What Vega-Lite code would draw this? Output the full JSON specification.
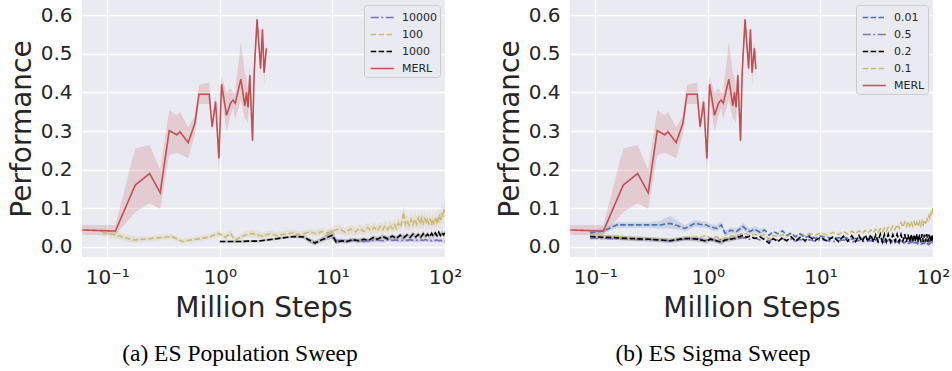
{
"$schema": "https://vega.github.io/schema/vega-lite/v6.json",
"padding": {"left": 8, "top": 0, "right": 0, "bottom": 0},
"background": "white",
"data": {"values": [
{"panel":"a","series":"10000","x":10,"y":0.025,"lo":0.018,"hi":0.032},
{"panel":"a","series":"10000","x":11,"y":0.016,"lo":0.011,"hi":0.021},
{"panel":"a","series":"10000","x":13,"y":0.015,"lo":0.01,"hi":0.02},
{"panel":"a","series":"10000","x":16,"y":0.017,"lo":0.012,"hi":0.022},
{"panel":"a","series":"10000","x":19,"y":0.014,"lo":0.009,"hi":0.019},
{"panel":"a","series":"10000","x":22,"y":0.016,"lo":0.011,"hi":0.021},
{"panel":"a","series":"10000","x":25,"y":0.018,"lo":0.013,"hi":0.023},
{"panel":"a","series":"10000","x":28,"y":0.016,"lo":0.011,"hi":0.021},
{"panel":"a","series":"10000","x":31,"y":0.019,"lo":0.014,"hi":0.024},
{"panel":"a","series":"10000","x":34,"y":0.017,"lo":0.012,"hi":0.022},
{"panel":"a","series":"10000","x":37,"y":0.018,"lo":0.013,"hi":0.023},
{"panel":"a","series":"10000","x":40,"y":0.016,"lo":0.011,"hi":0.021},
{"panel":"a","series":"10000","x":43,"y":0.018,"lo":0.013,"hi":0.023},
{"panel":"a","series":"10000","x":46,"y":0.017,"lo":0.012,"hi":0.022},
{"panel":"a","series":"10000","x":49,"y":0.019,"lo":0.014,"hi":0.024},
{"panel":"a","series":"10000","x":52,"y":0.017,"lo":0.012,"hi":0.022},
{"panel":"a","series":"10000","x":55,"y":0.018,"lo":0.013,"hi":0.023},
{"panel":"a","series":"10000","x":58,"y":0.016,"lo":0.011,"hi":0.021},
{"panel":"a","series":"10000","x":61,"y":0.018,"lo":0.013,"hi":0.023},
{"panel":"a","series":"10000","x":64,"y":0.017,"lo":0.012,"hi":0.022},
{"panel":"a","series":"10000","x":67,"y":0.019,"lo":0.014,"hi":0.024},
{"panel":"a","series":"10000","x":70,"y":0.017,"lo":0.012,"hi":0.022},
{"panel":"a","series":"10000","x":73,"y":0.018,"lo":0.013,"hi":0.023},
{"panel":"a","series":"10000","x":76,"y":0.016,"lo":0.011,"hi":0.021},
{"panel":"a","series":"10000","x":79,"y":0.018,"lo":0.013,"hi":0.023},
{"panel":"a","series":"10000","x":82,"y":0.017,"lo":0.012,"hi":0.022},
{"panel":"a","series":"10000","x":85,"y":0.018,"lo":0.013,"hi":0.023},
{"panel":"a","series":"10000","x":88,"y":0.016,"lo":0.011,"hi":0.021},
{"panel":"a","series":"10000","x":91,"y":0.017,"lo":0.012,"hi":0.022},
{"panel":"a","series":"10000","x":94,"y":0.016,"lo":0.011,"hi":0.021},
{"panel":"a","series":"10000","x":97,"y":0.017,"lo":0.012,"hi":0.022},
{"panel":"a","series":"10000","x":100,"y":0.016,"lo":0.011,"hi":0.021},
{"panel":"a","series":"100","x":0.0898,"y":0.038,"lo":0.028,"hi":0.05},
{"panel":"a","series":"100","x":0.118,"y":0.031,"lo":0.022,"hi":0.042},
{"panel":"a","series":"100","x":0.171,"y":0.018,"lo":0.011,"hi":0.027},
{"panel":"a","series":"100","x":0.233,"y":0.021,"lo":0.014,"hi":0.028},
{"panel":"a","series":"100","x":0.375,"y":0.027,"lo":0.02,"hi":0.034},
{"panel":"a","series":"100","x":0.46,"y":0.014,"lo":0.008,"hi":0.021},
{"panel":"a","series":"100","x":0.647,"y":0.021,"lo":0.014,"hi":0.028},
{"panel":"a","series":"100","x":0.79,"y":0.025,"lo":0.018,"hi":0.032},
{"panel":"a","series":"100","x":0.973,"y":0.035,"lo":0.027,"hi":0.044},
{"panel":"a","series":"100","x":1.115,"y":0.025,"lo":0.017,"hi":0.033},
{"panel":"a","series":"100","x":1.235,"y":0.035,"lo":0.027,"hi":0.044},
{"panel":"a","series":"100","x":1.37,"y":0.018,"lo":0.011,"hi":0.026},
{"panel":"a","series":"100","x":1.68,"y":0.031,"lo":0.023,"hi":0.04},
{"panel":"a","series":"100","x":1.92,"y":0.035,"lo":0.026,"hi":0.045},
{"panel":"a","series":"100","x":2.36,"y":0.028,"lo":0.02,"hi":0.037},
{"panel":"a","series":"100","x":2.8,"y":0.034,"lo":0.025,"hi":0.043},
{"panel":"a","series":"100","x":3.2,"y":0.029,"lo":0.021,"hi":0.038},
{"panel":"a","series":"100","x":3.7,"y":0.033,"lo":0.024,"hi":0.042},
{"panel":"a","series":"100","x":4.5,"y":0.036,"lo":0.028,"hi":0.045},
{"panel":"a","series":"100","x":5.2,"y":0.031,"lo":0.022,"hi":0.04},
{"panel":"a","series":"100","x":6.3,"y":0.039,"lo":0.03,"hi":0.048},
{"panel":"a","series":"100","x":7.2,"y":0.034,"lo":0.026,"hi":0.043},
{"panel":"a","series":"100","x":8.0,"y":0.040,"lo":0.031,"hi":0.05},
{"panel":"a","series":"100","x":8.9,"y":0.036,"lo":0.027,"hi":0.046},
{"panel":"a","series":"100","x":10,"y":0.041,"lo":0.031,"hi":0.052},
{"panel":"a","series":"100","x":11.5,"y":0.047,"lo":0.034,"hi":0.06},
{"panel":"a","series":"100","x":13,"y":0.038,"lo":0.028,"hi":0.05},
{"panel":"a","series":"100","x":14.5,"y":0.046,"lo":0.033,"hi":0.058},
{"panel":"a","series":"100","x":16,"y":0.039,"lo":0.028,"hi":0.052},
{"panel":"a","series":"100","x":17.5,"y":0.048,"lo":0.035,"hi":0.06},
{"panel":"a","series":"100","x":19,"y":0.040,"lo":0.029,"hi":0.052},
{"panel":"a","series":"100","x":20.5,"y":0.050,"lo":0.037,"hi":0.063},
{"panel":"a","series":"100","x":22,"y":0.042,"lo":0.03,"hi":0.055},
{"panel":"a","series":"100","x":23.5,"y":0.051,"lo":0.037,"hi":0.064},
{"panel":"a","series":"100","x":25,"y":0.042,"lo":0.03,"hi":0.055},
{"panel":"a","series":"100","x":26.5,"y":0.053,"lo":0.039,"hi":0.067},
{"panel":"a","series":"100","x":28,"y":0.045,"lo":0.032,"hi":0.058},
{"panel":"a","series":"100","x":29.5,"y":0.055,"lo":0.04,"hi":0.07},
{"panel":"a","series":"100","x":31,"y":0.045,"lo":0.032,"hi":0.058},
{"panel":"a","series":"100","x":32.5,"y":0.057,"lo":0.041,"hi":0.072},
{"panel":"a","series":"100","x":34,"y":0.047,"lo":0.034,"hi":0.062},
{"panel":"a","series":"100","x":35.5,"y":0.058,"lo":0.042,"hi":0.074},
{"panel":"a","series":"100","x":37,"y":0.048,"lo":0.034,"hi":0.062},
{"panel":"a","series":"100","x":38.5,"y":0.062,"lo":0.045,"hi":0.079},
{"panel":"a","series":"100","x":40,"y":0.052,"lo":0.038,"hi":0.068},
{"panel":"a","series":"100","x":41.5,"y":0.066,"lo":0.048,"hi":0.084},
{"panel":"a","series":"100","x":43,"y":0.090,"lo":0.06,"hi":0.11},
{"panel":"a","series":"100","x":44.5,"y":0.058,"lo":0.042,"hi":0.075},
{"panel":"a","series":"100","x":46,"y":0.068,"lo":0.049,"hi":0.087},
{"panel":"a","series":"100","x":48,"y":0.056,"lo":0.04,"hi":0.072},
{"panel":"a","series":"100","x":50,"y":0.071,"lo":0.051,"hi":0.09},
{"panel":"a","series":"100","x":52,"y":0.058,"lo":0.042,"hi":0.075},
{"panel":"a","series":"100","x":54,"y":0.072,"lo":0.052,"hi":0.092},
{"panel":"a","series":"100","x":56,"y":0.059,"lo":0.043,"hi":0.077},
{"panel":"a","series":"100","x":58,"y":0.074,"lo":0.053,"hi":0.095},
{"panel":"a","series":"100","x":60,"y":0.060,"lo":0.043,"hi":0.078},
{"panel":"a","series":"100","x":62,"y":0.075,"lo":0.054,"hi":0.096},
{"panel":"a","series":"100","x":64,"y":0.061,"lo":0.044,"hi":0.08},
{"panel":"a","series":"100","x":66,"y":0.076,"lo":0.055,"hi":0.097},
{"panel":"a","series":"100","x":68,"y":0.060,"lo":0.043,"hi":0.079},
{"panel":"a","series":"100","x":70,"y":0.074,"lo":0.053,"hi":0.095},
{"panel":"a","series":"100","x":72,"y":0.058,"lo":0.042,"hi":0.076},
{"panel":"a","series":"100","x":74,"y":0.073,"lo":0.052,"hi":0.094},
{"panel":"a","series":"100","x":76,"y":0.057,"lo":0.041,"hi":0.074},
{"panel":"a","series":"100","x":78,"y":0.072,"lo":0.052,"hi":0.093},
{"panel":"a","series":"100","x":80,"y":0.058,"lo":0.042,"hi":0.076},
{"panel":"a","series":"100","x":82,"y":0.074,"lo":0.053,"hi":0.095},
{"panel":"a","series":"100","x":84,"y":0.060,"lo":0.043,"hi":0.079},
{"panel":"a","series":"100","x":86,"y":0.078,"lo":0.056,"hi":0.1},
{"panel":"a","series":"100","x":88,"y":0.064,"lo":0.046,"hi":0.084},
{"panel":"a","series":"100","x":90,"y":0.084,"lo":0.06,"hi":0.108},
{"panel":"a","series":"100","x":92,"y":0.070,"lo":0.05,"hi":0.092},
{"panel":"a","series":"100","x":94,"y":0.088,"lo":0.063,"hi":0.113},
{"panel":"a","series":"100","x":96,"y":0.078,"lo":0.056,"hi":0.1},
{"panel":"a","series":"100","x":98,"y":0.096,"lo":0.07,"hi":0.122},
{"panel":"a","series":"100","x":100,"y":0.104,"lo":0.078,"hi":0.13},
{"panel":"a","series":"1000","x":1.0,"y":0.014,"lo":0.011,"hi":0.017},
{"panel":"a","series":"1000","x":1.2,"y":0.014,"lo":0.011,"hi":0.017},
{"panel":"a","series":"1000","x":1.5,"y":0.014,"lo":0.011,"hi":0.017},
{"panel":"a","series":"1000","x":1.8,"y":0.015,"lo":0.012,"hi":0.018},
{"panel":"a","series":"1000","x":2.2,"y":0.015,"lo":0.012,"hi":0.018},
{"panel":"a","series":"1000","x":2.6,"y":0.018,"lo":0.015,"hi":0.021},
{"panel":"a","series":"1000","x":3.0,"y":0.020,"lo":0.017,"hi":0.023},
{"panel":"a","series":"1000","x":3.5,"y":0.023,"lo":0.02,"hi":0.026},
{"panel":"a","series":"1000","x":4.0,"y":0.025,"lo":0.022,"hi":0.028},
{"panel":"a","series":"1000","x":4.6,"y":0.027,"lo":0.024,"hi":0.03},
{"panel":"a","series":"1000","x":5.5,"y":0.026,"lo":0.022,"hi":0.03},
{"panel":"a","series":"1000","x":6.2,"y":0.018,"lo":0.01,"hi":0.024},
{"panel":"a","series":"1000","x":7.0,"y":0.010,"lo":0.004,"hi":0.017},
{"panel":"a","series":"1000","x":7.8,"y":0.017,"lo":0.011,"hi":0.023},
{"panel":"a","series":"1000","x":8.6,"y":0.022,"lo":0.016,"hi":0.03},
{"panel":"a","series":"1000","x":9.5,"y":0.028,"lo":0.02,"hi":0.04},
{"panel":"a","series":"1000","x":10,"y":0.030,"lo":0.02,"hi":0.046},
{"panel":"a","series":"1000","x":10.8,"y":0.012,"lo":0.007,"hi":0.02},
{"panel":"a","series":"1000","x":12,"y":0.016,"lo":0.011,"hi":0.021},
{"panel":"a","series":"1000","x":13.5,"y":0.014,"lo":0.009,"hi":0.019},
{"panel":"a","series":"1000","x":15,"y":0.019,"lo":0.014,"hi":0.024},
{"panel":"a","series":"1000","x":17,"y":0.016,"lo":0.011,"hi":0.021},
{"panel":"a","series":"1000","x":19,"y":0.020,"lo":0.015,"hi":0.025},
{"panel":"a","series":"1000","x":21,"y":0.017,"lo":0.012,"hi":0.022},
{"panel":"a","series":"1000","x":23,"y":0.024,"lo":0.018,"hi":0.03},
{"panel":"a","series":"1000","x":25,"y":0.020,"lo":0.015,"hi":0.026},
{"panel":"a","series":"1000","x":28,"y":0.027,"lo":0.021,"hi":0.033},
{"panel":"a","series":"1000","x":31,"y":0.021,"lo":0.015,"hi":0.027},
{"panel":"a","series":"1000","x":34,"y":0.028,"lo":0.022,"hi":0.034},
{"panel":"a","series":"1000","x":37,"y":0.022,"lo":0.016,"hi":0.028},
{"panel":"a","series":"1000","x":40,"y":0.030,"lo":0.024,"hi":0.036},
{"panel":"a","series":"1000","x":43,"y":0.024,"lo":0.018,"hi":0.03},
{"panel":"a","series":"1000","x":46,"y":0.031,"lo":0.025,"hi":0.037},
{"panel":"a","series":"1000","x":49,"y":0.025,"lo":0.019,"hi":0.031},
{"panel":"a","series":"1000","x":52,"y":0.033,"lo":0.026,"hi":0.04},
{"panel":"a","series":"1000","x":55,"y":0.026,"lo":0.02,"hi":0.032},
{"panel":"a","series":"1000","x":58,"y":0.032,"lo":0.026,"hi":0.038},
{"panel":"a","series":"1000","x":61,"y":0.025,"lo":0.019,"hi":0.031},
{"panel":"a","series":"1000","x":64,"y":0.034,"lo":0.027,"hi":0.041},
{"panel":"a","series":"1000","x":67,"y":0.027,"lo":0.021,"hi":0.033},
{"panel":"a","series":"1000","x":70,"y":0.033,"lo":0.027,"hi":0.039},
{"panel":"a","series":"1000","x":73,"y":0.026,"lo":0.02,"hi":0.032},
{"panel":"a","series":"1000","x":76,"y":0.035,"lo":0.028,"hi":0.042},
{"panel":"a","series":"1000","x":79,"y":0.028,"lo":0.022,"hi":0.034},
{"panel":"a","series":"1000","x":82,"y":0.036,"lo":0.029,"hi":0.043},
{"panel":"a","series":"1000","x":85,"y":0.029,"lo":0.023,"hi":0.035},
{"panel":"a","series":"1000","x":88,"y":0.038,"lo":0.03,"hi":0.046},
{"panel":"a","series":"1000","x":91,"y":0.030,"lo":0.024,"hi":0.036},
{"panel":"a","series":"1000","x":94,"y":0.037,"lo":0.03,"hi":0.044},
{"panel":"a","series":"1000","x":97,"y":0.031,"lo":0.025,"hi":0.037},
{"panel":"a","series":"1000","x":100,"y":0.036,"lo":0.029,"hi":0.043},
{"panel":"b","series":"0.1","x":0.0898,"y":0.035},
{"panel":"b","series":"0.1","x":0.118,"y":0.030},
{"panel":"b","series":"0.1","x":0.155,"y":0.028},
{"panel":"b","series":"0.1","x":0.2,"y":0.025},
{"panel":"b","series":"0.1","x":0.25,"y":0.023},
{"panel":"b","series":"0.1","x":0.3,"y":0.022},
{"panel":"b","series":"0.1","x":0.375,"y":0.021},
{"panel":"b","series":"0.1","x":0.46,"y":0.018},
{"panel":"b","series":"0.1","x":0.54,"y":0.021},
{"panel":"b","series":"0.1","x":0.625,"y":0.024},
{"panel":"b","series":"0.1","x":0.767,"y":0.025},
{"panel":"b","series":"0.1","x":0.87,"y":0.026},
{"panel":"b","series":"0.1","x":0.973,"y":0.030},
{"panel":"b","series":"0.1","x":1.05,"y":0.022},
{"panel":"b","series":"0.1","x":1.19,"y":0.026},
{"panel":"b","series":"0.1","x":1.32,"y":0.020},
{"panel":"b","series":"0.1","x":1.42,"y":0.024},
{"panel":"b","series":"0.1","x":1.6,"y":0.028},
{"panel":"b","series":"0.1","x":1.8,"y":0.030},
{"panel":"b","series":"0.1","x":2.06,"y":0.036},
{"panel":"b","series":"0.1","x":2.36,"y":0.030},
{"panel":"b","series":"0.1","x":2.6,"y":0.033},
{"panel":"b","series":"0.1","x":2.9,"y":0.028},
{"panel":"b","series":"0.1","x":3.2,"y":0.031},
{"panel":"b","series":"0.1","x":3.5,"y":0.020},
{"panel":"b","series":"0.1","x":3.8,"y":0.030},
{"panel":"b","series":"0.1","x":4.2,"y":0.026},
{"panel":"b","series":"0.1","x":4.6,"y":0.032},
{"panel":"b","series":"0.1","x":5.0,"y":0.027},
{"panel":"b","series":"0.1","x":5.5,"y":0.034},
{"panel":"b","series":"0.1","x":6.0,"y":0.028},
{"panel":"b","series":"0.1","x":6.6,"y":0.034},
{"panel":"b","series":"0.1","x":7.3,"y":0.029},
{"panel":"b","series":"0.1","x":8.0,"y":0.035},
{"panel":"b","series":"0.1","x":9.0,"y":0.030},
{"panel":"b","series":"0.1","x":10,"y":0.036},
{"panel":"b","series":"0.1","x":11.5,"y":0.031},
{"panel":"b","series":"0.1","x":13,"y":0.038},
{"panel":"b","series":"0.1","x":14.5,"y":0.032},
{"panel":"b","series":"0.1","x":16,"y":0.040},
{"panel":"b","series":"0.1","x":17.5,"y":0.033},
{"panel":"b","series":"0.1","x":19,"y":0.041},
{"panel":"b","series":"0.1","x":20.5,"y":0.034},
{"panel":"b","series":"0.1","x":22,"y":0.042},
{"panel":"b","series":"0.1","x":23.5,"y":0.035},
{"panel":"b","series":"0.1","x":25,"y":0.043},
{"panel":"b","series":"0.1","x":26.5,"y":0.036},
{"panel":"b","series":"0.1","x":28,"y":0.044},
{"panel":"b","series":"0.1","x":29.5,"y":0.037},
{"panel":"b","series":"0.1","x":31,"y":0.046},
{"panel":"b","series":"0.1","x":32.5,"y":0.038},
{"panel":"b","series":"0.1","x":34,"y":0.047},
{"panel":"b","series":"0.1","x":35.5,"y":0.039},
{"panel":"b","series":"0.1","x":37,"y":0.049},
{"panel":"b","series":"0.1","x":38.5,"y":0.041},
{"panel":"b","series":"0.1","x":40,"y":0.051},
{"panel":"b","series":"0.1","x":42,"y":0.043},
{"panel":"b","series":"0.1","x":44,"y":0.054},
{"panel":"b","series":"0.1","x":46,"y":0.045},
{"panel":"b","series":"0.1","x":48,"y":0.058},
{"panel":"b","series":"0.1","x":50,"y":0.048},
{"panel":"b","series":"0.1","x":52,"y":0.063},
{"panel":"b","series":"0.1","x":54,"y":0.051},
{"panel":"b","series":"0.1","x":56,"y":0.064},
{"panel":"b","series":"0.1","x":58,"y":0.053},
{"panel":"b","series":"0.1","x":60,"y":0.066},
{"panel":"b","series":"0.1","x":62,"y":0.054},
{"panel":"b","series":"0.1","x":64,"y":0.066},
{"panel":"b","series":"0.1","x":66,"y":0.054},
{"panel":"b","series":"0.1","x":68,"y":0.065},
{"panel":"b","series":"0.1","x":70,"y":0.053},
{"panel":"b","series":"0.1","x":72,"y":0.064},
{"panel":"b","series":"0.1","x":74,"y":0.053},
{"panel":"b","series":"0.1","x":76,"y":0.065},
{"panel":"b","series":"0.1","x":78,"y":0.055},
{"panel":"b","series":"0.1","x":80,"y":0.067},
{"panel":"b","series":"0.1","x":82,"y":0.057},
{"panel":"b","series":"0.1","x":84,"y":0.070},
{"panel":"b","series":"0.1","x":86,"y":0.060},
{"panel":"b","series":"0.1","x":88,"y":0.075},
{"panel":"b","series":"0.1","x":90,"y":0.066},
{"panel":"b","series":"0.1","x":92,"y":0.080},
{"panel":"b","series":"0.1","x":94,"y":0.072},
{"panel":"b","series":"0.1","x":96,"y":0.088},
{"panel":"b","series":"0.1","x":98,"y":0.082},
{"panel":"b","series":"0.1","x":100,"y":0.104},
{"panel":"b","series":"0.01","x":0.0898,"y":0.037,"lo":0.03,"hi":0.045},
{"panel":"b","series":"0.01","x":0.118,"y":0.041,"lo":0.034,"hi":0.048},
{"panel":"b","series":"0.01","x":0.155,"y":0.057,"lo":0.05,"hi":0.064},
{"panel":"b","series":"0.01","x":0.2,"y":0.057,"lo":0.05,"hi":0.064},
{"panel":"b","series":"0.01","x":0.25,"y":0.057,"lo":0.05,"hi":0.064},
{"panel":"b","series":"0.01","x":0.3,"y":0.057,"lo":0.05,"hi":0.064},
{"panel":"b","series":"0.01","x":0.375,"y":0.057,"lo":0.047,"hi":0.067},
{"panel":"b","series":"0.01","x":0.46,"y":0.061,"lo":0.048,"hi":0.08},
{"panel":"b","series":"0.01","x":0.54,"y":0.055,"lo":0.045,"hi":0.068},
{"panel":"b","series":"0.01","x":0.625,"y":0.048,"lo":0.04,"hi":0.056},
{"panel":"b","series":"0.01","x":0.767,"y":0.061,"lo":0.052,"hi":0.07},
{"panel":"b","series":"0.01","x":0.87,"y":0.058,"lo":0.05,"hi":0.066},
{"panel":"b","series":"0.01","x":0.973,"y":0.057,"lo":0.049,"hi":0.065},
{"panel":"b","series":"0.01","x":1.05,"y":0.052,"lo":0.044,"hi":0.06},
{"panel":"b","series":"0.01","x":1.19,"y":0.048,"lo":0.04,"hi":0.056},
{"panel":"b","series":"0.01","x":1.32,"y":0.057,"lo":0.049,"hi":0.066},
{"panel":"b","series":"0.01","x":1.42,"y":0.035,"lo":0.027,"hi":0.043},
{"panel":"b","series":"0.01","x":1.6,"y":0.043,"lo":0.035,"hi":0.051},
{"panel":"b","series":"0.01","x":1.8,"y":0.040,"lo":0.032,"hi":0.048},
{"panel":"b","series":"0.01","x":2.06,"y":0.053,"lo":0.044,"hi":0.062},
{"panel":"b","series":"0.01","x":2.2,"y":0.045,"lo":0.037,"hi":0.054},
{"panel":"b","series":"0.01","x":2.36,"y":0.040,"lo":0.032,"hi":0.048},
{"panel":"b","series":"0.01","x":2.6,"y":0.046,"lo":0.038,"hi":0.054},
{"panel":"b","series":"0.01","x":2.9,"y":0.038,"lo":0.03,"hi":0.046},
{"panel":"b","series":"0.01","x":3.2,"y":0.044,"lo":0.036,"hi":0.052},
{"panel":"b","series":"0.01","x":3.5,"y":0.030},
{"panel":"b","series":"0.01","x":3.8,"y":0.040},
{"panel":"b","series":"0.01","x":4.2,"y":0.034},
{"panel":"b","series":"0.01","x":4.6,"y":0.042},
{"panel":"b","series":"0.01","x":5.0,"y":0.030},
{"panel":"b","series":"0.01","x":5.5,"y":0.036},
{"panel":"b","series":"0.01","x":6.0,"y":0.026},
{"panel":"b","series":"0.01","x":6.6,"y":0.034},
{"panel":"b","series":"0.01","x":7.3,"y":0.024},
{"panel":"b","series":"0.01","x":8.0,"y":0.030},
{"panel":"b","series":"0.01","x":9.0,"y":0.022},
{"panel":"b","series":"0.01","x":10,"y":0.028},
{"panel":"b","series":"0.01","x":13,"y":0.022},
{"panel":"b","series":"0.01","x":16,"y":0.025},
{"panel":"b","series":"0.01","x":19,"y":0.020},
{"panel":"b","series":"0.01","x":22,"y":0.024},
{"panel":"b","series":"0.01","x":25,"y":0.019},
{"panel":"b","series":"0.01","x":28,"y":0.023},
{"panel":"b","series":"0.01","x":31,"y":0.018},
{"panel":"b","series":"0.01","x":34,"y":0.022},
{"panel":"b","series":"0.01","x":37,"y":0.017},
{"panel":"b","series":"0.01","x":40,"y":0.020},
{"panel":"b","series":"0.01","x":43,"y":0.014},
{"panel":"b","series":"0.01","x":46,"y":0.018},
{"panel":"b","series":"0.01","x":49,"y":0.012},
{"panel":"b","series":"0.01","x":52,"y":0.016},
{"panel":"b","series":"0.01","x":55,"y":0.010},
{"panel":"b","series":"0.01","x":58,"y":0.014},
{"panel":"b","series":"0.01","x":61,"y":0.009},
{"panel":"b","series":"0.01","x":64,"y":0.013},
{"panel":"b","series":"0.01","x":67,"y":0.008},
{"panel":"b","series":"0.01","x":70,"y":0.012},
{"panel":"b","series":"0.01","x":73,"y":0.008},
{"panel":"b","series":"0.01","x":76,"y":0.011},
{"panel":"b","series":"0.01","x":79,"y":0.007},
{"panel":"b","series":"0.01","x":82,"y":0.011},
{"panel":"b","series":"0.01","x":85,"y":0.007},
{"panel":"b","series":"0.01","x":88,"y":0.010},
{"panel":"b","series":"0.01","x":91,"y":0.006},
{"panel":"b","series":"0.01","x":94,"y":0.010},
{"panel":"b","series":"0.01","x":97,"y":0.006},
{"panel":"b","series":"0.01","x":100,"y":0.009},
{"panel":"b","series":"0.5","x":0.0898,"y":0.022},
{"panel":"b","series":"0.5","x":0.118,"y":0.022},
{"panel":"b","series":"0.5","x":0.155,"y":0.021},
{"panel":"b","series":"0.5","x":0.2,"y":0.020},
{"panel":"b","series":"0.5","x":0.25,"y":0.019},
{"panel":"b","series":"0.5","x":0.3,"y":0.019},
{"panel":"b","series":"0.5","x":0.375,"y":0.018},
{"panel":"b","series":"0.5","x":0.46,"y":0.016},
{"panel":"b","series":"0.5","x":0.54,"y":0.018},
{"panel":"b","series":"0.5","x":0.625,"y":0.020},
{"panel":"b","series":"0.5","x":0.767,"y":0.022},
{"panel":"b","series":"0.5","x":0.87,"y":0.020},
{"panel":"b","series":"0.5","x":0.973,"y":0.018},
{"panel":"b","series":"0.5","x":1.05,"y":0.022},
{"panel":"b","series":"0.5","x":1.19,"y":0.016},
{"panel":"b","series":"0.5","x":1.32,"y":0.020},
{"panel":"b","series":"0.5","x":1.42,"y":0.018},
{"panel":"b","series":"0.5","x":1.6,"y":0.022},
{"panel":"b","series":"0.5","x":1.8,"y":0.020},
{"panel":"b","series":"0.5","x":2.06,"y":0.024},
{"panel":"b","series":"0.5","x":2.36,"y":0.020},
{"panel":"b","series":"0.5","x":2.6,"y":0.023},
{"panel":"b","series":"0.5","x":2.9,"y":0.018},
{"panel":"b","series":"0.5","x":3.2,"y":0.022},
{"panel":"b","series":"0.5","x":3.5,"y":0.015},
{"panel":"b","series":"0.5","x":3.8,"y":0.021},
{"panel":"b","series":"0.5","x":4.2,"y":0.017},
{"panel":"b","series":"0.5","x":4.6,"y":0.022},
{"panel":"b","series":"0.5","x":5.0,"y":0.016},
{"panel":"b","series":"0.5","x":5.5,"y":0.020},
{"panel":"b","series":"0.5","x":6.0,"y":0.015},
{"panel":"b","series":"0.5","x":6.6,"y":0.019},
{"panel":"b","series":"0.5","x":7.3,"y":0.014},
{"panel":"b","series":"0.5","x":8.0,"y":0.019},
{"panel":"b","series":"0.5","x":9.0,"y":0.015},
{"panel":"b","series":"0.5","x":10,"y":0.019},
{"panel":"b","series":"0.5","x":13,"y":0.014},
{"panel":"b","series":"0.5","x":16,"y":0.018},
{"panel":"b","series":"0.5","x":19,"y":0.013},
{"panel":"b","series":"0.5","x":22,"y":0.017},
{"panel":"b","series":"0.5","x":25,"y":0.013},
{"panel":"b","series":"0.5","x":28,"y":0.017},
{"panel":"b","series":"0.5","x":31,"y":0.012},
{"panel":"b","series":"0.5","x":34,"y":0.016},
{"panel":"b","series":"0.5","x":37,"y":0.012},
{"panel":"b","series":"0.5","x":40,"y":0.016},
{"panel":"b","series":"0.5","x":43,"y":0.011},
{"panel":"b","series":"0.5","x":46,"y":0.015},
{"panel":"b","series":"0.5","x":49,"y":0.012},
{"panel":"b","series":"0.5","x":52,"y":0.016},
{"panel":"b","series":"0.5","x":55,"y":0.011},
{"panel":"b","series":"0.5","x":58,"y":0.015},
{"panel":"b","series":"0.5","x":61,"y":0.012},
{"panel":"b","series":"0.5","x":64,"y":0.016},
{"panel":"b","series":"0.5","x":67,"y":0.011},
{"panel":"b","series":"0.5","x":70,"y":0.015},
{"panel":"b","series":"0.5","x":73,"y":0.012},
{"panel":"b","series":"0.5","x":76,"y":0.016},
{"panel":"b","series":"0.5","x":79,"y":0.011},
{"panel":"b","series":"0.5","x":82,"y":0.015},
{"panel":"b","series":"0.5","x":85,"y":0.012},
{"panel":"b","series":"0.5","x":88,"y":0.016},
{"panel":"b","series":"0.5","x":91,"y":0.011},
{"panel":"b","series":"0.5","x":94,"y":0.015},
{"panel":"b","series":"0.5","x":97,"y":0.012},
{"panel":"b","series":"0.5","x":100,"y":0.015},
{"panel":"b","series":"0.2","x":0.0898,"y":0.027,"lo":0.021,"hi":0.033},
{"panel":"b","series":"0.2","x":0.118,"y":0.025,"lo":0.019,"hi":0.031},
{"panel":"b","series":"0.2","x":0.155,"y":0.024,"lo":0.018,"hi":0.03},
{"panel":"b","series":"0.2","x":0.2,"y":0.022,"lo":0.016,"hi":0.028},
{"panel":"b","series":"0.2","x":0.25,"y":0.021,"lo":0.015,"hi":0.027},
{"panel":"b","series":"0.2","x":0.3,"y":0.020,"lo":0.014,"hi":0.026},
{"panel":"b","series":"0.2","x":0.375,"y":0.018,"lo":0.012,"hi":0.024},
{"panel":"b","series":"0.2","x":0.46,"y":0.016,"lo":0.01,"hi":0.022},
{"panel":"b","series":"0.2","x":0.54,"y":0.019,"lo":0.013,"hi":0.025},
{"panel":"b","series":"0.2","x":0.625,"y":0.022,"lo":0.016,"hi":0.028},
{"panel":"b","series":"0.2","x":0.767,"y":0.021,"lo":0.015,"hi":0.027},
{"panel":"b","series":"0.2","x":0.87,"y":0.018,"lo":0.012,"hi":0.024},
{"panel":"b","series":"0.2","x":0.973,"y":0.015,"lo":0.009,"hi":0.021},
{"panel":"b","series":"0.2","x":1.05,"y":0.020,"lo":0.014,"hi":0.026},
{"panel":"b","series":"0.2","x":1.19,"y":0.016,"lo":0.01,"hi":0.022},
{"panel":"b","series":"0.2","x":1.32,"y":0.012,"lo":0.006,"hi":0.018},
{"panel":"b","series":"0.2","x":1.42,"y":0.018,"lo":0.012,"hi":0.024},
{"panel":"b","series":"0.2","x":1.6,"y":0.020,"lo":0.014,"hi":0.026},
{"panel":"b","series":"0.2","x":1.8,"y":0.024,"lo":0.018,"hi":0.03},
{"panel":"b","series":"0.2","x":2.06,"y":0.030,"lo":0.023,"hi":0.037},
{"panel":"b","series":"0.2","x":2.2,"y":0.025},
{"panel":"b","series":"0.2","x":2.36,"y":0.028},
{"panel":"b","series":"0.2","x":2.6,"y":0.022},
{"panel":"b","series":"0.2","x":2.9,"y":0.026},
{"panel":"b","series":"0.2","x":3.2,"y":0.018},
{"panel":"b","series":"0.2","x":3.5,"y":0.010},
{"panel":"b","series":"0.2","x":3.8,"y":0.022},
{"panel":"b","series":"0.2","x":4.2,"y":0.014},
{"panel":"b","series":"0.2","x":4.6,"y":0.024},
{"panel":"b","series":"0.2","x":5.0,"y":0.016},
{"panel":"b","series":"0.2","x":5.5,"y":0.026},
{"panel":"b","series":"0.2","x":6.0,"y":0.015},
{"panel":"b","series":"0.2","x":6.6,"y":0.025},
{"panel":"b","series":"0.2","x":7.3,"y":0.016},
{"panel":"b","series":"0.2","x":8.0,"y":0.026},
{"panel":"b","series":"0.2","x":9.0,"y":0.017},
{"panel":"b","series":"0.2","x":10,"y":0.025},
{"panel":"b","series":"0.2","x":11.5,"y":0.015},
{"panel":"b","series":"0.2","x":13,"y":0.027},
{"panel":"b","series":"0.2","x":14.5,"y":0.014},
{"panel":"b","series":"0.2","x":16,"y":0.028},
{"panel":"b","series":"0.2","x":17.5,"y":0.015},
{"panel":"b","series":"0.2","x":19,"y":0.029},
{"panel":"b","series":"0.2","x":20.5,"y":0.014},
{"panel":"b","series":"0.2","x":22,"y":0.030},
{"panel":"b","series":"0.2","x":23.5,"y":0.013},
{"panel":"b","series":"0.2","x":25,"y":0.031},
{"panel":"b","series":"0.2","x":26.5,"y":0.014},
{"panel":"b","series":"0.2","x":28,"y":0.032},
{"panel":"b","series":"0.2","x":29.5,"y":0.013},
{"panel":"b","series":"0.2","x":31,"y":0.031},
{"panel":"b","series":"0.2","x":32.5,"y":0.014},
{"panel":"b","series":"0.2","x":34,"y":0.033},
{"panel":"b","series":"0.2","x":35.5,"y":0.013},
{"panel":"b","series":"0.2","x":37,"y":0.032},
{"panel":"b","series":"0.2","x":38.5,"y":0.014},
{"panel":"b","series":"0.2","x":40,"y":0.033},
{"panel":"b","series":"0.2","x":42,"y":0.013},
{"panel":"b","series":"0.2","x":44,"y":0.032},
{"panel":"b","series":"0.2","x":46,"y":0.014},
{"panel":"b","series":"0.2","x":48,"y":0.033},
{"panel":"b","series":"0.2","x":50,"y":0.013},
{"panel":"b","series":"0.2","x":52,"y":0.032},
{"panel":"b","series":"0.2","x":54,"y":0.014},
{"panel":"b","series":"0.2","x":56,"y":0.033},
{"panel":"b","series":"0.2","x":58,"y":0.013},
{"panel":"b","series":"0.2","x":60,"y":0.032},
{"panel":"b","series":"0.2","x":62,"y":0.014},
{"panel":"b","series":"0.2","x":64,"y":0.033},
{"panel":"b","series":"0.2","x":66,"y":0.013},
{"panel":"b","series":"0.2","x":68,"y":0.032},
{"panel":"b","series":"0.2","x":70,"y":0.014},
{"panel":"b","series":"0.2","x":72,"y":0.033},
{"panel":"b","series":"0.2","x":74,"y":0.013},
{"panel":"b","series":"0.2","x":76,"y":0.032},
{"panel":"b","series":"0.2","x":78,"y":0.014},
{"panel":"b","series":"0.2","x":80,"y":0.033},
{"panel":"b","series":"0.2","x":82,"y":0.013},
{"panel":"b","series":"0.2","x":84,"y":0.032},
{"panel":"b","series":"0.2","x":86,"y":0.014},
{"panel":"b","series":"0.2","x":88,"y":0.033},
{"panel":"b","series":"0.2","x":90,"y":0.013},
{"panel":"b","series":"0.2","x":92,"y":0.032},
{"panel":"b","series":"0.2","x":94,"y":0.014},
{"panel":"b","series":"0.2","x":96,"y":0.031},
{"panel":"b","series":"0.2","x":98,"y":0.013},
{"panel":"b","series":"0.2","x":100,"y":0.030},
{"panel":"ab","series":"MERL","x":0.06,"y":0.044,"lo":0.031,"hi":0.057},
{"panel":"ab","series":"MERL","x":0.118,"y":0.041,"lo":0.031,"hi":0.057},
{"panel":"ab","series":"MERL","x":0.177,"y":0.160,"lo":0.09,"hi":0.255},
{"panel":"ab","series":"MERL","x":0.238,"y":0.190,"lo":0.113,"hi":0.264},
{"panel":"ab","series":"MERL","x":0.295,"y":0.140,"lo":0.098,"hi":0.20},
{"panel":"ab","series":"MERL","x":0.355,"y":0.301,"lo":0.238,"hi":0.354},
{"panel":"ab","series":"MERL","x":0.415,"y":0.290,"lo":0.243,"hi":0.341},
{"panel":"ab","series":"MERL","x":0.442,"y":0.298,"lo":0.24,"hi":0.35},
{"panel":"ab","series":"MERL","x":0.523,"y":0.270,"lo":0.23,"hi":0.31},
{"panel":"ab","series":"MERL","x":0.60,"y":0.320,"lo":0.29,"hi":0.34},
{"panel":"ab","series":"MERL","x":0.652,"y":0.395,"lo":0.37,"hi":0.42},
{"panel":"ab","series":"MERL","x":0.804,"y":0.395,"lo":0.37,"hi":0.425},
{"panel":"ab","series":"MERL","x":0.854,"y":0.311,"lo":0.30,"hi":0.33},
{"panel":"ab","series":"MERL","x":0.916,"y":0.376,"lo":0.36,"hi":0.39},
{"panel":"ab","series":"MERL","x":0.98,"y":0.229,"lo":0.19,"hi":0.26},
{"panel":"ab","series":"MERL","x":1.035,"y":0.421,"lo":0.39,"hi":0.44},
{"panel":"ab","series":"MERL","x":1.146,"y":0.341,"lo":0.30,"hi":0.40},
{"panel":"ab","series":"MERL","x":1.244,"y":0.372,"lo":0.34,"hi":0.41},
{"panel":"ab","series":"MERL","x":1.31,"y":0.380,"lo":0.36,"hi":0.40},
{"panel":"ab","series":"MERL","x":1.37,"y":0.372,"lo":0.33,"hi":0.40},
{"panel":"ab","series":"MERL","x":1.536,"y":0.434,"lo":0.38,"hi":0.53},
{"panel":"ab","series":"MERL","x":1.667,"y":0.365,"lo":0.33,"hi":0.45},
{"panel":"ab","series":"MERL","x":1.725,"y":0.400,"lo":0.33,"hi":0.44},
{"panel":"ab","series":"MERL","x":1.78,"y":0.361,"lo":0.32,"hi":0.40},
{"panel":"ab","series":"MERL","x":1.846,"y":0.445,"lo":0.42,"hi":0.47},
{"panel":"ab","series":"MERL","x":1.95,"y":0.275,"lo":0.26,"hi":0.30},
{"panel":"ab","series":"MERL","x":2.016,"y":0.449,"lo":0.43,"hi":0.47},
{"panel":"ab","series":"MERL","x":2.14,"y":0.589,"lo":0.57,"hi":0.605},
{"panel":"ab","series":"MERL","x":2.30,"y":0.462,"lo":0.44,"hi":0.48},
{"panel":"ab","series":"MERL","x":2.39,"y":0.563,"lo":0.55,"hi":0.58},
{"panel":"ab","series":"MERL","x":2.47,"y":0.451,"lo":0.42,"hi":0.48},
{"panel":"ab","series":"MERL","x":2.59,"y":0.514,"lo":0.49,"hi":0.53},
{"panel":"b","series":"MERL","x":2.67,"y":0.460,"lo":0.44,"hi":0.48}
]},
"spacing": 125,
"bounds": "flush",
"resolve": {"scale": {"color": "independent", "strokeDash": "independent"}, "legend": {"color": "independent", "strokeDash": "independent"}},
"hconcat": [
{
 "width": 363, "height": 257,
 "title": {"text": "(a) ES Population Sweep", "orient": "bottom", "font": "Liberation Serif", "fontSize": 23.5, "fontWeight": "normal", "color": "#000000", "offset": 20, "anchor": "middle", "frame": "bounds", "dx": 5},
 "transform": [{"filter": "indexof(datum.panel, 'a') >= 0"}],
 "encoding": {
  "x": {"field": "x", "type": "quantitative", "scale": {"type": "log", "domain": [0.0596, 100], "nice": false}, "axis": {"title": "Million Steps", "values": [0.1, 1, 10, 100], "labelExpr": "datum.value < 0.5 ? '10⁻¹' : datum.value < 5 ? '10⁰' : datum.value < 50 ? '10¹' : '10²'", "labelFlush": false}},
  "color": {"field": "series", "type": "nominal", "scale": {"domain": ["10000", "100", "1000", "MERL"], "range": ["#8172B2", "#CCB974", "#000000", "#C44E52"]}, "legend": {"title": null}}
 },
 "layer": [
  {"transform": [{"filter": "isValid(datum.lo)"}], "mark": {"type": "area", "opacity": 0.2, "clip": true},
   "encoding": {"y": {"field": "lo", "type": "quantitative", "scale": {"domain": [-0.026, 0.639], "nice": false, "zero": false}, "axis": {"title": "Performance", "values": [0, 0.1, 0.2, 0.3, 0.4, 0.5, 0.6], "format": ".1f"}}, "y2": {"field": "hi"}}},
  {"mark": {"type": "line", "strokeWidth": 1.6, "clip": true},
   "encoding": {"y": {"field": "y", "type": "quantitative"},
    "strokeDash": {"field": "series", "type": "nominal", "scale": {"domain": ["10000", "100", "1000", "MERL"], "range": [[8, 2.5, 2, 2.5], [5.5, 2.4], [5.5, 2.4], [1, 0]]}, "legend": {"title": null}}}}
 ]
},
{
 "width": 363, "height": 257,
 "title": {"text": "(b) ES Sigma Sweep", "orient": "bottom", "font": "Liberation Serif", "fontSize": 23.5, "fontWeight": "normal", "color": "#000000", "offset": 20, "anchor": "middle", "frame": "bounds", "dx": -10},
 "transform": [{"filter": "indexof(datum.panel, 'b') >= 0"}],
 "encoding": {
  "x": {"field": "x", "type": "quantitative", "scale": {"type": "log", "domain": [0.0596, 100], "nice": false}, "axis": {"title": "Million Steps", "values": [0.1, 1, 10, 100], "labelExpr": "datum.value < 0.5 ? '10⁻¹' : datum.value < 5 ? '10⁰' : datum.value < 50 ? '10¹' : '10²'", "labelFlush": false}},
  "color": {"field": "series", "type": "nominal", "scale": {"domain": ["0.01", "0.5", "0.2", "0.1", "MERL"], "range": ["#4C72B0", "#8172B2", "#000000", "#CCB974", "#C44E52"]}, "legend": {"title": null}}
 },
 "layer": [
  {"transform": [{"filter": "isValid(datum.lo)"}], "mark": {"type": "area", "opacity": 0.2, "clip": true},
   "encoding": {"y": {"field": "lo", "type": "quantitative", "scale": {"domain": [-0.026, 0.639], "nice": false, "zero": false}, "axis": {"title": "Performance", "values": [0, 0.1, 0.2, 0.3, 0.4, 0.5, 0.6], "format": ".1f"}}, "y2": {"field": "hi"}}},
  {"mark": {"type": "line", "strokeWidth": 1.6, "clip": true},
   "encoding": {"y": {"field": "y", "type": "quantitative"},
    "strokeDash": {"field": "series", "type": "nominal", "scale": {"domain": ["0.01", "0.5", "0.2", "0.1", "MERL"], "range": [[5.5, 2.4], [8, 2.5, 2, 2.5], [5.5, 2.4], [5.5, 2.4], [1, 0]]}, "legend": {"title": null}}}}
 ]
}
],
"config": {
 "view": {"fill": "#EAEAF2", "stroke": null},
 "axis": {"domain": false, "ticks": false, "grid": true, "gridColor": "#FFFFFF", "gridWidth": 1.3, "labelFont": "DejaVu Sans", "labelFontSize": 20, "labelColor": "#262626", "labelPadding": 10, "titleFont": "DejaVu Sans", "titleFontSize": 28, "titleFontWeight": "normal", "titleColor": "#262626"},
 "axisY": {"titlePadding": 4},
 "axisX": {"titlePadding": 7},
 "legend": {"orient": "top-right", "offset": 5, "fillColor": "#EAEAF2", "strokeColor": "#CCCCCC", "cornerRadius": 3, "padding": 3, "labelFont": "DejaVu Sans", "labelFontSize": 11, "labelColor": "#262626", "symbolType": "M-0.7,0H2.1", "symbolSize": 272, "symbolStrokeWidth": 1.6, "symbolOpacity": 1, "symbolFillColor": "transparent", "rowPadding": 2, "labelOffset": 16}
}
}
